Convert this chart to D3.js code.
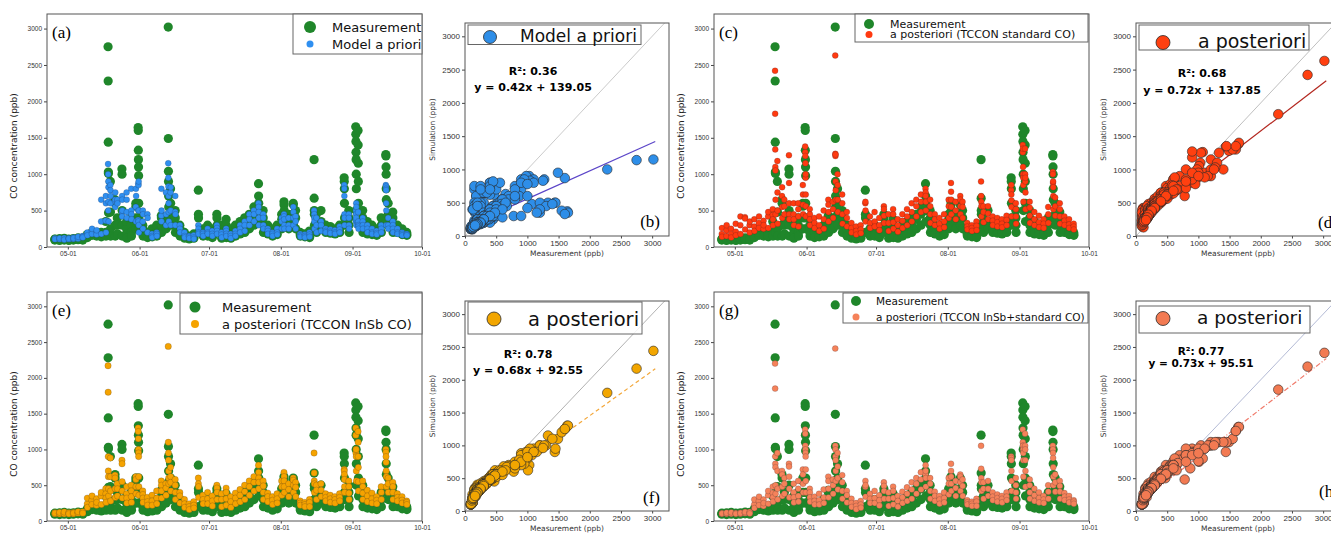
<!DOCTYPE html>
<html>
<head>
<meta charset="utf-8">
<script src="https://cdn.jsdelivr.net/npm/d3@7"></script>
<style>
  body { margin: 0; background: #fff; }
  svg { display: block; font-family: "DejaVu Sans", sans-serif; }
  .tick text { fill: #333; }
  .tick line { stroke: #444; }
</style>
</head>
<body>
<svg id="fig" width="1331" height="534"></svg>
<script>
// Observation days (2019) and the hours each value of a day was taken at
const obsDays = ["04-25","04-27","04-29","05-01","05-03","05-05","05-07","05-09","05-11","05-13",
  "05-15","05-17","05-18","05-19","05-21","05-22","05-24","05-26","05-28","05-30",
  "05-31","06-02","06-04","06-06","06-08","06-10","06-12","06-13","06-14","06-16",
  "06-18","06-20","06-22","06-24","06-26","06-28","06-30","07-02","07-04","07-06",
  "07-08","07-10","07-12","07-14","07-16","07-18","07-20","07-22","07-24","07-26",
  "07-28","07-30","08-01","08-02","08-04","08-06","08-07","08-09","08-11","08-13",
  "08-15","08-16","08-18","08-20","08-22","08-24","08-26","08-28","08-30","09-02",
  "09-03","09-05","09-07","09-09","09-11","09-13","09-15","09-16","09-18","09-20",
  "09-22","09-24"];
const obsHours = [9, 10, 11, 12, 13, 14, 15, 16, 17];

// CO concentration (ppb), one row per observation day
const measurement = [
  [95,110,105],[100,90,115],[105,95,120],[100,110,90],[95,115,105],
  [110,100,125],[105,120,95],[150,170,130],[180,160,200],[170,190,150],
  [160,200,140],[350,200,180,150],[2750,2280,1440,1030,1010,470,200],[900,480,250,150],[650,600,300,150],
  [400,300,180],[1070,1000,500,300,150],[250,350,180,120],[400,300,200,150],[600,560,400,250],
  [1640,1600,1330,1200,1100,980,600,400,250],[300,250,200,150],[200,150,130],[250,180,140],[300,200,150],
  [430,400,300,200],[400,350,250],[3020,1490,1040,900,700,550,400],[800,600,450,300],[500,400,300,200],
  [300,250,150],[200,150,120],[150,130,110],[180,140,120],[780,450,400,200],
  [250,200,150],[300,200,150],[250,180,130],[450,400,300,200],[300,200,120],
  [380,300,200,130],[250,180,120],[300,220,150],[350,250,180],[400,300,200],
  [450,380,250],[550,450,300],[870,700,600,500,350],[500,400,300,200],[300,250,180],
  [250,200,150],[300,220,170],[450,380,250],[620,580,500,400,300],[450,350,250],
  [600,580,450,300],[500,400,250],[200,170,150],[180,160,140],[220,180,130],
  [1200,670,500,450,300],[450,350,200],[500,350,250],[300,250,200],[280,230,190],
  [250,220,180],[300,250,200],[950,900,800,600,400,300],[500,400,300,200],[1650,1550,1450,1300,1200,1000,800,500],
  [1600,1400,1150,900,600,350],[500,400,300,200],[350,250,180],[300,220,170],[250,200,160],
  [400,300,200],[1270,1250,1100,1000,800,650,400],[600,450,300],[480,400,300,200],[300,250,200],
  [250,200,170],[200,180,160]
];

const modelPrior = [
  [110,120,105],[115,105,120],[110,125,100],[120,105,115],[110,130,120],
  [125,115,140],[150,140,130],[180,200,160],[220,180,250],[200,170,230],
  [350,650,180],[360,700,600,200],[1140,1000,500,900,820,620,350],[850,780,600,700],[630,550,650,750],
  [620,650,600],[480,420,700,650,500],[750,650,480,400],[800,500,450,380],[550,800,350,700],
  [370,870,500,350,850,900,500,300,200],[350,500,250,450],[450,200,400],[180,150,130],[200,180,150],
  [430,800,350,500],[750,300,450],[1150,950,830,700,600,480,350],[750,500,820,300],[480,700,300,450],
  [300,250,200],[200,150,130],[150,140,120],[160,130,110],[300,250,200,180],
  [200,180,150],[250,200,180],[220,180,150],[300,260,220,180],[200,170,130],
  [250,220,180,150],[180,150,120],[220,180,150],[300,250,200],[350,300,220],
  [450,380,300],[500,450,350],[600,550,480,400,300],[450,400,300,250],[250,220,180],
  [200,180,150],[250,200,170],[400,350,250],[450,420,380,300,250],[400,300,250],
  [550,480,400,300],[420,350,250],[180,160,140],[170,150,130],[200,170,140],
  [500,450,400,350,250],[400,300,200],[350,300,220],[250,220,200],[240,210,190],
  [230,200,180],[280,240,200],[850,800,700,450,400,300],[450,400,300,250],[350,380,500,450,400,600,550,300],
  [330,480,350,300,280,250],[400,350,300,250],[300,250,200],[250,200,180],[220,190,170],
  [300,250,200],[850,830,800,780,600,500,300],[400,300,250],[350,300,250,200],[250,200,180],
  [200,180,160],[180,170,160]
];

const postStandard = [
  [180,260,140],[150,230,300],[250,180,130],[320,210,160],[300,420,180],
  [410,390,240],[300,200,350],[280,380,220],[330,260,420],[250,360,300],
  [420,480,260],[520,440,380,300],[2420,1830,1340,1100,1050,650,450],[1180,750,500,320],[700,820,550,400],
  [650,560,450],[1260,880,600,450,380],[450,600,380,300],[600,520,420,280],[850,720,580,450],
  [1380,1300,1250,1150,950,1000,720,560,420],[520,450,380,300],[400,330,260],[420,300,220],[500,380,250],
  [650,580,480,350],[620,520,400],[2630,1280,1250,1270,900,780,650],[1000,850,650,480],[720,600,450,320],
  [480,400,280],[330,260,200],[280,220,170],[300,240,190],[600,620,500,350],
  [420,330,260],[480,350,280],[400,300,230],[560,520,430,330],[450,330,220],
  [520,450,340,250],[380,300,210],[450,360,260],[520,420,300],[600,480,350],
  [650,560,420],[720,620,480],[800,750,700,620,500],[650,560,450,330],[450,380,300],
  [400,320,250],[450,350,270],[650,560,400],[880,760,650,550,450],[620,500,380],
  [700,650,560,450],[620,550,400],[330,280,240],[300,260,220],[350,290,230],
  [900,700,620,560,420],[560,480,340],[560,460,380],[420,360,300],[400,340,280],
  [380,320,270],[430,370,300],[780,850,720,640,550,420],[600,520,420,320],[1400,1300,1350,1100,1000,950,850,620],
  [1350,1000,900,950,750,520],[620,540,430,330],[480,380,300],[430,340,270],[380,320,260],
  [550,450,330],[1030,1000,880,900,820,700,520],[680,560,430],[600,520,420,320],[420,360,300],
  [380,310,260],[320,280,240]
];

const postInSb = [
  [100,115,110],[105,100,120],[110,100,125],[105,115,100],[100,120,110],
  [115,110,130],[120,130,110],[240,320,190],[290,230,350],[220,310,260],
  [350,400,230],[450,380,320,260],[2170,1800,900,700,620,450,350],[880,620,420,280],[640,600,450,330],
  [520,450,350],[850,800,550,420,320],[380,480,320,250],[500,420,340,260],[620,580,480,380],
  [1300,1250,1150,1000,950,900,620,480,360],[420,370,320,260],[330,270,220],[360,280,220],[420,320,240],
  [560,500,420,320],[520,460,360],[2440,1100,950,850,700,600,520],[750,620,540,420],[580,500,400,300],
  [400,350,250],[300,240,190],[240,200,160],[270,220,180],[600,520,480,330],
  [360,300,240],[400,310,240],[350,280,210],[500,460,400,300],[380,300,200],
  [460,400,310,220],[340,270,190],[390,320,240],[440,360,270],[500,410,300],
  [560,480,360],[620,540,420],[780,680,600,540,450],[560,490,400,300],[390,340,270],
  [340,290,230],[380,310,250],[560,480,360],[680,620,560,480,400],[520,440,340],
  [600,570,500,400],[540,470,340],[280,250,220],[260,230,200],[300,260,200],
  [950,670,560,520,400],[500,430,300],[520,430,340],[380,330,280],[360,310,260],
  [340,300,250],[380,330,280],[720,700,650,580,480,400],[560,480,390,300],[1300,1200,950,1000,1000,900,700,560],
  [1250,1100,900,750,550,420],[560,480,390,300],[430,350,270],[390,310,250],[340,290,240],
  [480,400,300],[1000,960,900,820,700,620,480],[600,520,400],[540,480,400,300],[380,330,280],
  [340,290,250],[280,260,230]
];

const postCombined = [
  [100,110,105],[105,100,115],[110,100,120],[105,110,100],[100,115,110],
  [115,110,125],[115,125,105],[230,300,180],[280,220,340],[210,300,250],
  [360,420,240],[480,390,330,270],[2200,1850,900,800,750,500,380],[950,700,450,300],[700,650,480,350],
  [600,520,380],[800,760,620,450,330],[400,520,330,260],[560,450,350,270],[720,650,520,400],
  [1280,1220,1050,1000,950,900,720,560,400],[450,400,330,270],[340,280,230],[380,290,230],[440,330,250],
  [620,560,450,330],[580,500,380],[2410,1050,1000,900,850,700,560],[950,760,600,440],[640,540,420,310],
  [420,360,260],[310,250,195],[250,210,165],[280,230,185],[480,560,500,340],
  [380,310,250],[420,320,250],[360,290,215],[540,490,420,310],[400,310,210],
  [480,420,320,230],[350,280,200],[410,330,250],[470,380,280],[540,440,310],
  [600,520,380],[680,580,440],[650,780,700,600,480],[600,520,420,310],[410,350,280],
  [350,300,240],[400,320,260],[600,520,370],[800,700,620,520,420],[560,460,350],
  [650,620,540,420],[580,490,350],[290,260,230],[270,240,210],[310,270,210],
  [1050,730,600,540,420],[540,450,310],[560,450,350],[400,340,290],[370,320,270],
  [350,310,260],[400,340,290],[900,880,850,700,560,420],[600,500,400,310],[1280,1100,1050,1050,1000,950,850,620],
  [1220,1050,1000,850,700,480],[580,500,400,310],[450,360,280],[400,320,260],[350,300,250],
  [500,410,310],[1050,1000,950,880,750,620,500],[650,540,410],[560,490,410,310],[390,340,290],
  [350,300,260],[290,270,240]
];

// Linear fits printed in the scatter panels (b, d, f, h)
const fitR2 = [0.36, 0.68, 0.78, 0.77];
const fitSlope = [0.42, 0.72, 0.68, 0.73];
const fitIntercept = [139.05, 137.85, 92.55, 95.51];

const monthTicks = ["2019-05-01", "2019-06-01", "2019-07-01", "2019-08-01", "2019-09-01", "2019-10-01"];
const concTicks = [0, 500, 1000, 1500, 2000, 2500, 3000];

// ------------------------------------------------------------
const svg = d3.select("#fig");
const green = "#1f862a";
const parseObs = d3.timeParse("%Y-%m-%d %H");
const parseDay = d3.timeParse("%Y-%m-%d");
const timeDomain = [parseDay("2019-04-22"), parseDay("2019-10-01")];

const tsW = 375;
const scW = 204;

function flatten(sim) {
    const out = [];
    obsDays.forEach((day, i) => {
        if (sim[i].length !== measurement[i].length) console.warn("length mismatch", day);
        measurement[i].forEach((m, j) => {
            out.push({ t: parseObs("2019-" + day + " " + obsHours[j]), meas: m, sim: sim[i][j] });
        });
    });
    return out;
}

let clipCount = 0;
function addClip(w, h) {
    const id = "clip" + (clipCount++);
    svg.append("clipPath").attr("id", id).append("rect").attr("width", w).attr("height", h);
    return "url(#" + id + ")";
}

function styleAxis(sel, size) {
    sel.select(".domain").remove();
    sel.selectAll(".tick text").style("font-size", size + "px");
}

// ---------- time series panels ----------
const seriesPanels = [
    { label: "(a)", left: 47, top: 14, h: 233, sim: modelPrior, name: "Model a priori", color: "#2f8ff0", r: 3,
      legend: { x: 246, y: 0, w: 129, h: 40, mx: 263, my: [13, 30], mr: [6, 3.5], tx: 285, font: 13 } },
    { label: "(c)", left: 714, top: 14, h: 233, sim: postStandard, name: "a posteriori (TCCON standard CO)", color: "#ff3a10", r: 3,
      legend: { x: 141, y: 0, w: 233, h: 28, mx: 155, my: [10, 20.5], mr: [5, 3.5], tx: 176, font: 11 } },
    { label: "(e)", left: 47, top: 292, h: 229, sim: postInSb, name: "a posteriori (TCCON InSb CO)", color: "#f5a300", r: 3.2,
      legend: { x: 133, y: 1, w: 242, h: 41, mx: 148, my: [15, 32], mr: [5.5, 4], tx: 175, font: 13 } },
    { label: "(g)", left: 714, top: 292, h: 229, sim: postCombined, name: "a posteriori (TCCON InSb+standard CO)", color: "#f5825a", r: 3,
      legend: { x: 129, y: 1, w: 245, h: 30, mx: 142, my: [9, 25], mr: [5, 3.5], tx: 162, font: 10.5 } }
];

seriesPanels.forEach(p => {
    const tsH = p.h;
    const g = svg.append("g").attr("transform", `translate(${p.left},${p.top})`);
    const x = d3.scaleTime().domain(timeDomain).range([0, tsW]);
    const y = d3.scaleLinear().domain([0, 3200]).range([tsH, 0]);
    const pts = flatten(p.sim);

    const body = g.append("g").attr("clip-path", addClip(tsW, tsH));
    body.append("g").selectAll("circle").data(pts).join("circle")
        .attr("cx", d => x(d.t)).attr("cy", d => y(d.meas))
        .attr("r", 4.6).attr("fill", green);
    body.append("g").selectAll("circle").data(pts).join("circle")
        .attr("cx", d => x(d.t)).attr("cy", d => y(d.sim))
        .attr("r", p.r).attr("fill", p.color)
        .attr("stroke", "rgba(20,20,40,0.45)").attr("stroke-width", 0.4);

    g.append("g").attr("transform", `translate(0,${tsH})`)
        .call(d3.axisBottom(x).tickValues(monthTicks.map(parseDay))
            .tickFormat(d3.timeFormat("%m-%d")).tickSize(2.5).tickPadding(1.5))
        .call(s => styleAxis(s, 6.5));
    g.append("g")
        .call(d3.axisLeft(y).tickValues(concTicks).tickFormat(d3.format("d")).tickSize(3).tickPadding(2))
        .call(s => styleAxis(s, 6.5));

    g.append("rect").attr("width", tsW).attr("height", tsH)
        .attr("fill", "none").attr("stroke", "#555").attr("stroke-width", 1);

    g.append("text").attr("transform", `translate(-30,132) rotate(-90)`)
        .attr("text-anchor", "middle").style("font-size", "9px").attr("fill", "#222")
        .text("CO concentration (ppb)");

    g.append("text").attr("x", 5).attr("y", 24)
        .style("font-family", "'Liberation Serif', 'DejaVu Serif', serif").style("font-size", "17px")
        .text(p.label);

    // legend
    const L = p.legend;
    const lg = g.append("g");
    lg.append("rect").attr("x", L.x).attr("y", L.y).attr("width", L.w).attr("height", L.h)
        .attr("fill", "rgba(255,255,255,0.85)").attr("stroke", "#666").attr("stroke-width", 1);
    [[green, "Measurement"], [p.color, p.name]].forEach(([c, t], i) => {
        lg.append("circle").attr("cx", L.mx).attr("cy", L.my[i]).attr("r", L.mr[i]).attr("fill", c);
        lg.append("text").attr("x", L.tx).attr("y", L.my[i]).attr("dy", "0.36em")
            .style("font-size", L.font + "px").attr("fill", "#111").text(t);
    });
});

// ---------- scatter panels ----------
const scatterPanels = [
    { label: "(b)", left: 465, top: 23, h: 213, xlab: 20, sim: modelPrior, name: "Model a priori", color: "#2e8ee8",
      fitColor: "#5b45c8", dash: null, oneColor: "#c4c4c4",
      legend: { x: 3, y: 2, w: 173, h: 19.5, mx: 25, my: 14, mr: 6.5, tx: 55, ty: 18.5, font: 17 },
      stats: { x: 68, y1: 52, y2: 68, font: 11 }, lab: { x: 195, y: 204, anchor: "end" } },
    { label: "(d)", left: 1136, top: 23, h: 213, xlab: 20, sim: postStandard, name: "a posteriori", color: "#ff4010",
      fitColor: "#b3261e", dash: null, oneColor: "#b8b8b8",
      legend: { x: 3, y: 2, w: 170, h: 25, mx: 27, my: 19.5, mr: 7, tx: 62, ty: 24.5, font: 19 },
      stats: { x: 66, y1: 54, y2: 71, font: 11 }, lab: { x: 182, y: 205, anchor: "start" } },
    { label: "(f)", left: 465, top: 301, h: 210, xlab: 19.5, sim: postInSb, name: "a posteriori", color: "#f2a600",
      fitColor: "#f3a73a", dash: "4,3", oneColor: "#a8a8a8",
      legend: { x: 3, y: 1, w: 174, h: 32, mx: 29, my: 18, mr: 7, tx: 63, ty: 24.5, font: 19.5 },
      stats: { x: 63, y1: 57, y2: 73, font: 11 }, lab: { x: 195, y: 202, anchor: "end" } },
    { label: "(h)", left: 1136, top: 301, h: 210, xlab: 19.5, sim: postCombined, name: "a posteriori", color: "#f27a52",
      fitColor: "#f07a6a", dash: "5,2,1,2", oneColor: "#aab2d0",
      legend: { x: 3, y: 5, w: 171, h: 27, mx: 27, my: 17.5, mr: 7, tx: 61, ty: 23, font: 18.5 },
      stats: { x: 65, y1: 54, y2: 66, font: 10.5 }, lab: { x: 183, y: 196, anchor: "start" } }
];

scatterPanels.forEach((p, k) => {
    const scH = p.h;
    const g = svg.append("g").attr("transform", `translate(${p.left},${p.top})`);
    const x = d3.scaleLinear().domain([0, 3270]).range([0, scW]);
    const y = d3.scaleLinear().domain([0, 3200]).range([scH, 0]);
    const pts = flatten(p.sim);
    const ext = d3.extent(pts, d => d.meas);

    const body = g.append("g").attr("clip-path", addClip(scW, scH));
    body.append("line")
        .attr("x1", x(0)).attr("y1", y(0)).attr("x2", x(3300)).attr("y2", y(3300))
        .attr("stroke", p.oneColor).attr("stroke-width", 0.9);
    body.append("line")
        .attr("x1", x(ext[0])).attr("y1", y(fitSlope[k] * ext[0] + fitIntercept[k]))
        .attr("x2", x(ext[1] + 30)).attr("y2", y(fitSlope[k] * (ext[1] + 30) + fitIntercept[k]))
        .attr("stroke", p.fitColor).attr("stroke-width", 1.2)
        .attr("stroke-dasharray", p.dash);
    body.append("g").selectAll("circle").data(pts).join("circle")
        .attr("cx", d => x(d.meas)).attr("cy", d => y(d.sim))
        .attr("r", 4.8).attr("fill", p.color)
        .attr("stroke", "#2a2a2a").attr("stroke-width", 0.6);

    g.append("g").attr("transform", `translate(0,${scH})`)
        .call(d3.axisBottom(x).tickValues(concTicks).tickFormat(d3.format("d")).tickSize(2.5).tickPadding(1.5))
        .call(s => styleAxis(s, 8));
    g.append("g")
        .call(d3.axisLeft(y).tickValues(concTicks).tickFormat(d3.format("d")).tickSize(3).tickPadding(2))
        .call(s => styleAxis(s, 8));

    g.append("rect").attr("width", scW).attr("height", scH)
        .attr("fill", "none").attr("stroke", "#555").attr("stroke-width", 1);

    g.append("text").attr("x", scW / 2).attr("y", scH + p.xlab)
        .attr("text-anchor", "middle").style("font-size", "7.5px").attr("fill", "#333")
        .text("Measurement (ppb)");
    g.append("text").attr("transform", `translate(-30,${scH / 2}) rotate(-90)`)
        .attr("text-anchor", "middle").style("font-size", "7.5px").attr("fill", "#333")
        .text("Simulation (ppb)");

    // fit statistics
    g.append("text").attr("x", p.stats.x).attr("y", p.stats.y1).attr("text-anchor", "middle")
        .style("font-size", p.stats.font + "px").style("font-weight", "bold")
        .text("R²: " + fitR2[k].toFixed(2));
    g.append("text").attr("x", p.stats.x).attr("y", p.stats.y2).attr("text-anchor", "middle")
        .style("font-size", p.stats.font + "px").style("font-weight", "bold")
        .text("y = " + fitSlope[k].toFixed(2) + "x + " + fitIntercept[k].toFixed(2));

    g.append("text").attr("x", p.lab.x).attr("y", p.lab.y).attr("text-anchor", p.lab.anchor)
        .style("font-family", "'Liberation Serif', 'DejaVu Serif', serif").style("font-size", "17px")
        .text(p.label);

    const L = p.legend;
    g.append("rect").attr("x", L.x).attr("y", L.y).attr("width", L.w).attr("height", L.h)
        .attr("fill", "rgba(255,255,255,0.85)").attr("stroke", "#666").attr("stroke-width", 1);
    g.append("circle").attr("cx", L.mx).attr("cy", L.my).attr("r", L.mr)
        .attr("fill", p.color).attr("stroke", "#2a2a2a").attr("stroke-width", 0.8);
    g.append("text").attr("x", L.tx).attr("y", L.ty)
        .style("font-size", L.font + "px").attr("fill", "#111").text(p.name);
});
</script>
</body>
</html>
